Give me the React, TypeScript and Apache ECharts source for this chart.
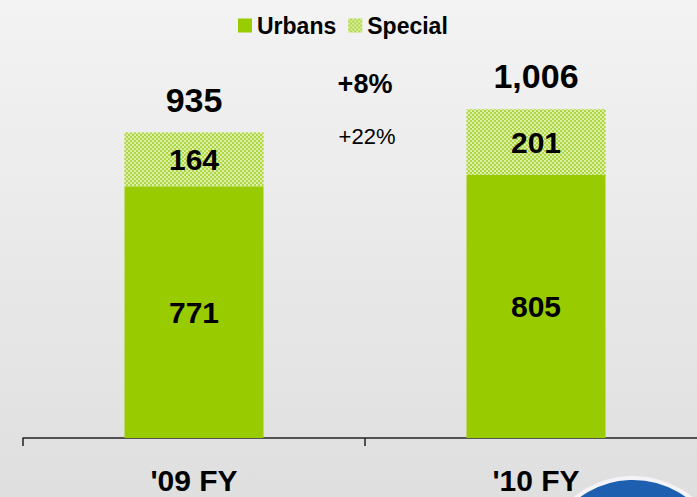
import React, { useEffect, useRef } from "react";
import * as echarts from "echarts";

const categories = ["'09 FY", "'10 FY"];
const urbans = [771, 805];
const special = [164, 201];
const totals = [935, 1006];
const growthTotal = "+8%";
const growthSpecial = "+22%";

const FONT = "'Liberation Sans', Arial, sans-serif";

export default function App() {
  const ref = useRef<HTMLDivElement>(null);
  useEffect(() => {
    if (!ref.current) return;
    const chart = echarts.init(ref.current, null, { renderer: "svg" });
    chart.setOption({
      animation: false,
      backgroundColor: "transparent",
      textStyle: { fontFamily: FONT },
      legend: {
        data: ["Urbans", "Special"],
        top: 9,
        left: 233,
        icon: "rect",
        itemWidth: 14,
        itemHeight: 14,
        itemGap: 12,
        textStyle: { fontSize: 23, fontWeight: "bold", color: "#000", fontFamily: FONT },
      },
      grid: { left: 23, width: 684, top: 46, bottom: 59, outerBoundsMode: "none", containLabel: false },
      xAxis: {
        type: "category",
        data: categories,
        axisLine: { lineStyle: { color: "#222", width: 1.5 } },
        axisTick: { show: true, length: 8, lineStyle: { color: "#222", width: 1.5 } },
        axisLabel: { margin: 27, fontSize: 30, fontWeight: "bold", color: "#000", fontFamily: FONT },
      },
      yAxis: { type: "value", min: 0, max: 1200, show: false, splitLine: { show: false } },
      series: [
        {
          name: "Urbans",
          type: "bar",
          stack: "s",
          barWidth: 139,
          data: urbans,
          itemStyle: { color: "#99cc00" },
          label: { show: true, position: "inside", fontSize: 30, fontWeight: "bold", color: "#000", fontFamily: FONT },
        },
        {
          name: "Special",
          type: "bar",
          stack: "s",
          barWidth: 139,
          data: special,
          itemStyle: {
            color: "#ddefa6",
            decal: {
              symbol: "rect",
              symbolSize: 1,
              color: "#acd642",
              dashArrayX: [[2, 2], [0, 2, 2, 0]],
              dashArrayY: [2, 0],
              rotation: 0,
            },
          },
          label: { show: true, position: "inside", fontSize: 30, fontWeight: "bold", color: "#000", fontFamily: FONT },
        },
        {
          name: "Total",
          type: "bar",
          stack: "s",
          barWidth: 139,
          data: totals.map(() => 0),
          itemStyle: { color: "transparent" },
          label: {
            show: true,
            position: "top",
            distance: 16,
            fontSize: 34,
            fontWeight: "bold",
            color: "#000",
            fontFamily: FONT,
            formatter: (p: any) => totals[p.dataIndex].toLocaleString("en-US"),
          },
        },
      ],
      graphic: [
        {
          type: "text",
          x: 365,
          y: 84,
          style: { text: growthTotal, fontSize: 27, fontWeight: "bold", fill: "#000", font: `bold 27px ${FONT}`, align: "center", verticalAlign: "middle" },
        },
        {
          type: "text",
          x: 367,
          y: 136,
          style: { text: growthSpecial, fontSize: 22, fill: "#000", font: `22px ${FONT}`, align: "center", verticalAlign: "middle" },
        },
        {
          type: "circle",
          shape: { cx: 633, cy: 570, r: 92 },
          style: { fill: "#1f5fb0", stroke: "#f4f4f8", lineWidth: 4 },
          z: -1,
        },
      ],
    });
    return () => chart.dispose();
  }, []);
  return (
    <div
      ref={ref}
      style={{
        position: "absolute",
        left: 0,
        top: 0,
        width: 697,
        height: 497,
        background: "linear-gradient(#f3f3f3, #dfdfdf)",
      }}
    />
  );
}
